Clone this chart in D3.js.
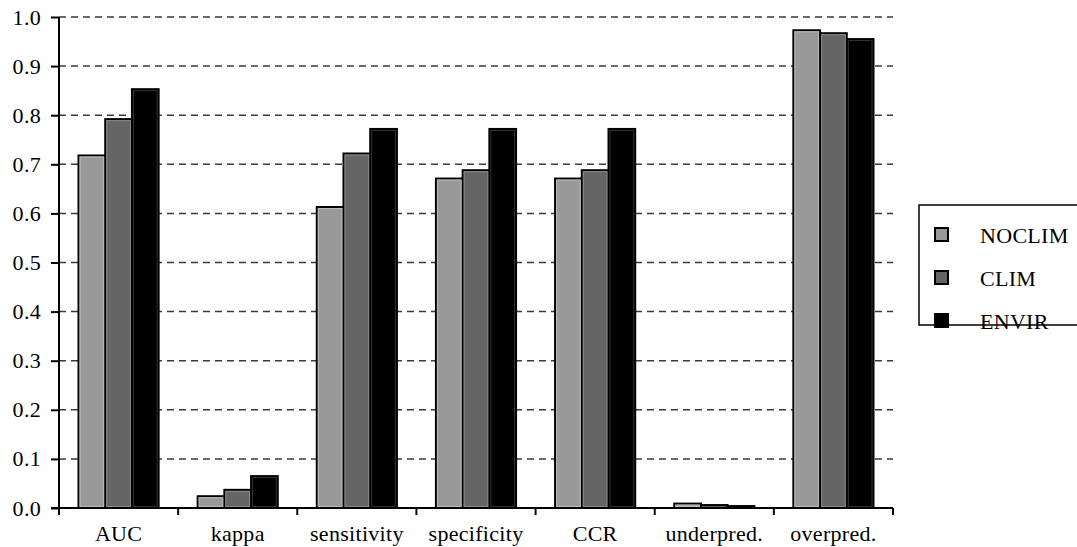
<!DOCTYPE html>
<html>
<head>
<meta charset="utf-8">
<script src="https://cdn.jsdelivr.net/npm/d3@7"></script>
<style>
body { margin: 0; background: #fff; }
svg text { font-family: "Liberation Serif", "DejaVu Serif", serif; letter-spacing: 0.3px; }
</style>
</head>
<body>
<div id="chart-area"></div>
<script>
// data
var categories = ["AUC", "kappa", "sensitivity", "specificity", "CCR", "underpred.", "overpred."]
var series = ["NOCLIM", "CLIM", "ENVIR"]
var noclim = [0.718, 0.024, 0.613, 0.671, 0.671, 0.009, 0.973]
var clim   = [0.792, 0.037, 0.722, 0.688, 0.688, 0.006, 0.967]
var envir  = [0.853, 0.065, 0.772, 0.772, 0.772, 0.004, 0.955]
var yTicks = [0, 0.1, 0.2, 0.3, 0.4, 0.5, 0.6, 0.7, 0.8, 0.9, 1.0]

var values = {NOCLIM: noclim, CLIM: clim, ENVIR: envir}
var fills = {NOCLIM: "#999999", CLIM: "#656565", ENVIR: "#000000"}
var lights = {NOCLIM: "#bdbdbd", CLIM: "#8a8a8a", ENVIR: "#333333"}
var FONT = "'Liberation Serif', 'DejaVu Serif', serif"

var cw = 1077, ch = 547
var m = {l: 59, t: 17, r: 184, b: 39}
var w = cw - m.l - m.r
var h = ch - m.t - m.b

var svg = d3.select("#chart-area").append("svg")
    .attr("width", cw)
    .attr("height", ch)
    .style("font-family", FONT)

var g = svg.append("g").attr("transform", "translate(" + m.l + ", " + m.t + ")")

var x = d3.scaleBand()
    .domain(categories)
    .range([0, w])

var x1 = d3.scaleBand()
    .domain(series)
    .range([19.5, x.bandwidth() - 19.5])

var y = d3.scaleLinear()
    .domain([0, 1])
    .range([h, 0])

// gridlines
g.append("g").attr("class", "grid")
    .selectAll("line")
    .data(yTicks.filter(d => d > 0))
    .enter().append("line")
    .attr("x1", 0)
    .attr("x2", w)
    .attr("y1", d => y(d))
    .attr("y2", d => y(d))
    .attr("stroke", "#3a3a3a")
    .attr("stroke-width", 1.5)
    .attr("stroke-dasharray", "7,5")

// bars
var groups = g.selectAll(".cat")
    .data(categories)
    .enter().append("g")
    .attr("class", "cat")
    .attr("transform", d => "translate(" + x(d) + ",0)")

groups.selectAll("rect.bar")
    .data((d, i) => series.map(s => ({s: s, v: values[s][i]})))
    .enter().append("rect")
    .attr("class", "bar")
    .attr("x", d => x1(d.s))
    .attr("y", d => y(d.v))
    .attr("width", x1.bandwidth())
    .attr("height", d => y(0) - y(d.v))
    .attr("fill", d => fills[d.s])
    .attr("stroke", "#000")
    .attr("stroke-width", 2)

groups.selectAll("rect.hl")
    .data((d, i) => series.map(s => ({s: s, v: values[s][i]})).filter(d => y(0) - y(d.v) > 4))
    .enter().append("rect")
    .attr("class", "hl")
    .attr("x", d => x1(d.s) + 1.5)
    .attr("y", d => y(d.v) + 1.5)
    .attr("width", x1.bandwidth() - 3)
    .attr("height", d => y(0) - y(d.v) - 3)
    .attr("fill", "none")
    .attr("stroke", d => lights[d.s])
    .attr("stroke-width", 1)

// axes
var leftAxis = d3.axisLeft(y)
    .tickValues(yTicks)
    .tickFormat(d3.format(".1f"))
    .tickSize(8)
    .tickPadding(10)

var yAxisGroup = g.append("g")
    .attr("class", "left axis")
    .call(leftAxis)
    .attr("font-family", FONT)
    .attr("font-size", 22)
yAxisGroup.select(".domain").remove()
yAxisGroup.append("line")
    .attr("x1", 0).attr("x2", 0).attr("y1", 0).attr("y2", h)
    .attr("stroke", "#000").attr("stroke-width", 2)
yAxisGroup.selectAll(".tick line").attr("stroke-width", 2)
yAxisGroup.selectAll(".tick text").attr("fill", "#000")

var xAxisGroup = g.append("g")
    .attr("class", "bottom axis")
    .attr("transform", "translate(0, " + h + ")")
xAxisGroup.append("line")
    .attr("x1", -8).attr("x2", w).attr("y1", 0).attr("y2", 0)
    .attr("stroke", "#000").attr("stroke-width", 2)
xAxisGroup.selectAll(".xt")
    .data(d3.range(categories.length + 1))
    .enter().append("line")
    .attr("x1", i => i * x.step()).attr("x2", i => i * x.step())
    .attr("y1", 0).attr("y2", 7)
    .attr("stroke", "#000").attr("stroke-width", 2)
xAxisGroup.selectAll(".xl")
    .data(categories)
    .enter().append("text")
    .attr("x", d => x(d) + x.bandwidth() / 2)
    .attr("y", 33)
    .attr("text-anchor", "middle")
    .attr("font-family", FONT)
    .attr("font-size", 22)
    .text(d => d)

// legend
var legend = svg.append("g")
    .attr("class", "legend")
    .attr("transform", "translate(919, 205)")

legend.append("rect")
    .attr("x", 0).attr("y", 0)
    .attr("width", 170).attr("height", 120)
    .attr("fill", "#fff")
    .attr("stroke", "#000")
    .attr("stroke-width", 1.5)

var legendItems = legend.selectAll(".legend-item")
    .data(series)
    .enter().append("g")
    .attr("class", "legend-item")
    .attr("transform", (d, i) => "translate(16, " + (23 + i * 43) + ")")

legendItems.append("rect")
    .attr("x", 0).attr("y", 0)
    .attr("width", 13).attr("height", 13)
    .attr("fill", d => fills[d])
    .attr("stroke", "#000")
    .attr("stroke-width", 2)

legendItems.append("text")
    .attr("x", 45)
    .attr("y", 15)
    .attr("font-family", FONT)
    .attr("font-size", 22)
    .text(d => d)
</script>
</body>
</html>
